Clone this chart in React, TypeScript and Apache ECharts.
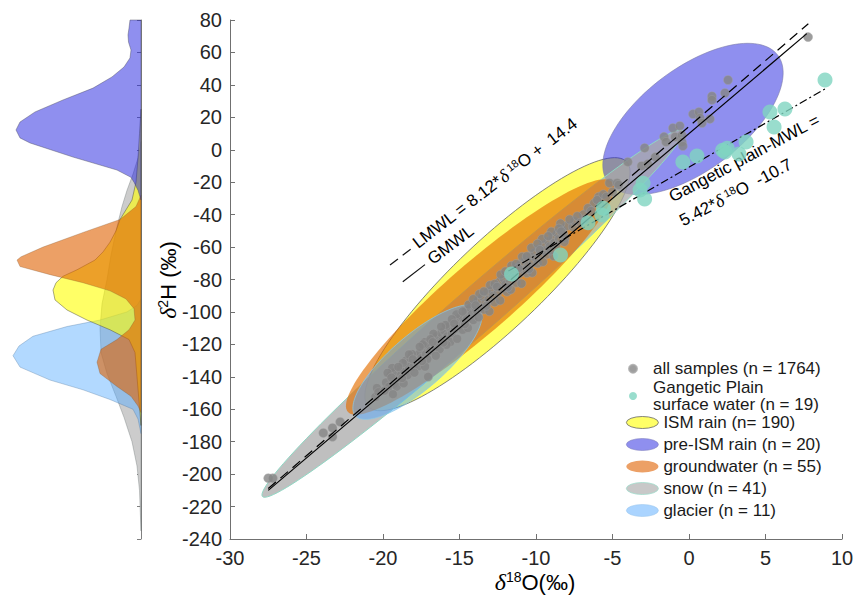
import React, { useEffect, useRef } from 'react';
import * as echarts from 'echarts';

const FONT = "'Liberation Sans', Arial, Helvetica, sans-serif";
const SERIF = "'Liberation Serif', 'DejaVu Serif', serif";

// ---- scatter data (δ18O, δ2H) ----
const allSamples: number[][] = [
  [-27.5, -202.5], [-27.2, -202.5], [-23.9, -174.6], [-23.3, -171.5], [-23.3, -177], [-22.8, -167.8],
  [-20.5, -152.4], [-20.4, -146.9], [-20.3, -149.5], [-17.25, -118.5], [-17.05, -140],
  [-19.8, -143.5], [-19.6, -146.0], [-19.5, -139.0], [-19.3, -144.5], [-19.2, -137.0], [-19.0, -141.5],
  [-18.9, -135.0], [-18.8, -138.5], [-18.6, -136.5], [-18.5, -130.0], [-18.3, -134.0], [-18.2, -128.5],
  [-18.0, -133.5], [-17.9, -127.0], [-17.8, -130.0], [-17.6, -125.5], [-17.5, -128.5], [-17.3, -121.0],
  [-17.2, -126.0], [-17.0, -120.5], [-16.9, -124.0], [-16.8, -117.5], [-16.6, -121.5], [-16.5, -115.0],
  [-16.4, -119.5], [-16.2, -113.0], [-16.1, -117.5], [-16.0, -111.5], [-15.8, -115.0], [-15.7, -109.0],
  [-15.5, -113.5], [-15.4, -106.5], [-15.3, -110.5], [-15.1, -104.0], [-15.0, -108.5], [-14.9, -102.5],
  [-14.7, -106.0], [-14.6, -99.5], [-14.5, -104.0], [-14.3, -97.5], [-14.2, -101.5], [-14.0, -95.0],
  [-13.9, -99.0], [-13.8, -93.0], [-13.6, -97.5], [-13.5, -90.5], [-13.3, -94.5], [-13.2, -88.0],
  [-13.1, -92.5], [-12.9, -86.5], [-12.8, -90.0], [-12.6, -84.0], [-12.5, -88.0], [-12.4, -81.5],
  [-12.2, -85.5], [-12.1, -79.5], [-12.0, -83.0], [-11.8, -77.5], [-11.7, -81.5], [-11.5, -75.0],
  [-11.4, -79.0], [-11.2, -72.5], [-11.1, -76.5], [-11.0, -70.5], [-10.8, -74.0], [-10.7, -68.0],
  [-10.5, -71.5], [-10.4, -65.5], [-10.2, -69.5], [-10.1, -63.5], [-10.0, -67.0], [-9.8, -61.0],
  [-9.7, -64.5], [-9.5, -58.5], [-9.4, -62.0], [-9.2, -56.5], [-9.1, -59.5], [-8.9, -54.0],
  [-8.8, -57.5], [-8.6, -51.5], [-8.5, -55.0], [-8.3, -49.5], [-8.2, -52.0], [-8.0, -47.0],
  [-19.9, -148.5], [-19.4, -134.5], [-19.1, -146.0], [-18.7, -131.5], [-18.4, -139.0], [-18.1, -126.0],
  [-17.7, -133.5], [-17.4, -120.0], [-17.1, -129.0], [-16.7, -113.5], [-16.3, -123.0], [-15.9, -108.0],
  [-15.6, -118.5], [-15.2, -101.5], [-14.8, -111.0], [-14.4, -95.5], [-14.1, -105.0], [-13.7, -89.0],
  [-13.4, -98.5], [-13.0, -83.5], [-12.7, -94.0], [-12.3, -77.0], [-11.9, -87.5], [-11.6, -71.5],
  [-11.3, -82.0], [-10.9, -66.0], [-10.6, -76.0], [-10.3, -60.5], [-9.9, -70.0], [-9.6, -55.0],
  [-9.3, -64.5], [-9.0, -50.5], [-8.7, -59.0], [-8.4, -45.5], [-8.1, -54.5],
  [-19.7, -137.6], [-19.35, -150.7], [-19.0, -133.9], [-18.65, -144.0], [-18.3, -126.2], [-17.95, -137.4],
  [-17.6, -121.5], [-17.25, -133.7], [-16.9, -116.8], [-16.55, -127.0], [-16.2, -109.1], [-15.85, -120.3],
  [-15.5, -104.5], [-15.15, -116.6], [-14.8, -99.8], [-14.45, -109.9], [-14.1, -92.1], [-13.75, -103.3],
  [-13.4, -87.4], [-13.05, -99.6], [-12.7, -82.7], [-12.35, -92.9], [-12.0, -75.0], [-11.65, -86.2],
  [-11.3, -70.4], [-10.95, -82.5], [-10.6, -65.7], [-10.25, -75.8], [-9.9, -58.0], [-9.55, -69.1],
  [-9.2, -53.3], [-8.85, -65.5], [-8.5, -48.6], [-8.15, -56.8],
  [-19.45, -140.5], [-18.75, -140.8], [-18.05, -129.2], [-17.45, -130.3], [-16.75, -118.6], [-16.05, -118.9],
  [-15.35, -107.2], [-14.65, -107.6], [-13.95, -95.9], [-13.25, -96.2], [-12.55, -84.5], [-11.85, -84.8],
  [-11.15, -73.1], [-10.45, -73.5], [-9.75, -61.8], [-9.05, -62.1], [-8.35, -50.4],
  [-7.6, -47.5], [-7.5, -44], [-6.9, -40], [-6.8, -43], [-6.2, -33], [-5.8, -33.5], [-5.9, -29],
  [-7.8, -43], [-7.3, -41], [-7.1, -45], [-6.6, -36], [-6.4, -37.7], [-6.0, -31], [-5.6, -27.5],
  [-5.4, -29], [-5.2, -20.5], [-5.0, -26], [-4.7, -20.5], [-4.6, -21.7], [-4.0, -7.5], [-3.1, -10],
  [-2.9, 1.1], [-2.7, -8.8], [-2.2, -4.5], [-1.63, 8], [-1.5, 4.8], [-1.05, 13.4], [-0.9, 7.9],
  [-0.6, 14.7], [-0.46, 9], [-0.46, 4.8], [-0.4, 2.3], [0.26, 22], [0.65, 23.3], [0.72, 19.6],
  [0.85, 16.5], [1.37, 19], [1.5, 33], [1.5, 30.7], [2.35, 35], [2.55, 43], [7.78, 69.5],
];

const surfaceWater: number[][] = [
  [8.89, 43], [5.29, 23.3], [6.27, 25.1], [5.56, 14], [3.73, 4.8], [2.35, -1.4], [2.5, 1],
  [3.27, -2.6], [2.2, -0.3], [0.52, -3.8], [-0.4, -7.5], [-3.0, -20.6], [-3.2, -24.8],
  [-2.9, -30.4], [-5.6, -36], [-5.7, -40.2], [-6.6, -45], [-8.4, -64.9], [-11.6, -76.6],
];

// ---- meteoric water lines (endpoints) ----
const gmwlLine = [[-27.5, -210.0], [7.7, 71.6]];
const lmwlLine = [[-27.5, -208.9], [7.8, 77.7]];
const gangeticLine = [[-11.8, -74.7], [9.0, 38.1]];

// ---- ellipses: [cx, cy, ux, uy, vx, vy] (center + conjugate semi-axes, data units) ----
const ismEllipse = [-12.52, -82.9, 8.44, 75.5, 1.98, -19.67];
const preIsmEllipse = [0.26, 19.0, 5.54, 39.3, 2.01, -25.1];
const snowEllipse = [-14.15, -101.0, 13.73, 112.8, 0.95, -10.3];
const groundwaterEllipse = [-13.66, -90.8, 8.64, 70.8, 1.46, -15.84];
const glacierEllipse = [-17.75, -130.9, 4.06, 33.0, 1.15, -12.6];

// ---- marginal densities: [δ2H, relative density] ----
const preIsmDensity = [
  [80, 0], [80, 11], [75, 12], [70.8, 13], [66.4, 12.5], [61.5, 10], [56.6, 11], [51, 17], [44.9, 29],
  [38, 48], [30.7, 78], [23.3, 106], [17.1, 121], [12.2, 125], [7.3, 121], [4.2, 111], [-4.5, 68],
  [-12.5, 24], [-17, 10], [-20, 7], [-25, 3], [-31, 0],
];
const ismDensity = [
  [25, 0], [10, 1.5], [-5, 3], [-20, 5], [-31, 9], [-43, 21], [-50, 25], [-57, 31], [-63, 38],
  [-68, 46], [-74, 64], [-78, 78], [-82, 85], [-86.5, 88], [-92.6, 86], [-98.8, 74], [-105, 54],
  [-111, 31], [-117, 12], [-125, 6], [-140, 4], [-155, 2], [-170, 0],
];
const groundwaterDensity = [
  [-28, 0], [-35, 5], [-43, 21], [-51, 58], [-60, 98], [-66, 120], [-68, 124], [-72, 121], [-77, 91],
  [-82, 58], [-87, 31], [-92, 15], [-98, 7], [-105, 6], [-111, 12], [-117, 24], [-123, 40], [-131, 44],
  [-138, 41], [-146, 24], [-152, 10], [-158, 3], [-162, 0],
];
const glacierDensity = [
  [-92, 0], [-96, 4], [-100, 14], [-105, 41], [-109, 74], [-115, 108], [-121, 122], [-127, 128],
  [-134, 121], [-142, 91], [-148, 58], [-154, 31], [-160, 8], [-166, 3], [-175, 0],
];
const snowDensity = [
  [5, 0], [-5, 3], [-15, 8], [-25, 14], [-35, 19], [-50, 25], [-65, 30], [-80, 34], [-95, 39],
  [-110, 41], [-125, 40], [-138, 34], [-152, 25], [-165, 17], [-180, 9], [-195, 4], [-210, 1.5], [-235, 0],
];

const NAMES = {
  all: 'all samples (n = 1764)',
  sw: 'Gangetic Plain\nsurface water (n = 19)',
  ism: 'ISM rain (n= 190)',
  pre: 'pre-ISM rain (n = 20)',
  gw: 'groundwater (n = 55)',
  snow: 'snow (n = 41)',
  gl: 'glacier (n = 11)',
};

function ellipseSeries(name: string, p: number[], fill: string, stroke: string, lw: number) {
  return {
    type: 'custom',
    name,
    xAxisIndex: 0,
    yAxisIndex: 0,
    silent: true,
    itemStyle: { color: fill },
    data: [[p[0], p[1]]],
    renderItem: (_params: any, api: any) => {
      const pts: number[][] = [];
      const N = 120;
      for (let i = 0; i < N; i++) {
        const t = (i / N) * Math.PI * 2;
        pts.push(api.coord([p[0] + p[2] * Math.cos(t) + p[4] * Math.sin(t), p[1] + p[3] * Math.cos(t) + p[5] * Math.sin(t)]));
      }
      return { type: 'polygon', shape: { points: pts }, style: { fill, stroke, lineWidth: lw } };
    },
  };
}

function densitySeries(name: string, d: number[][], fill: string, stroke: string) {
  return {
    type: 'custom',
    name: name + ' density',
    xAxisIndex: 1,
    yAxisIndex: 1,
    silent: true,
    data: [[0, 0]],
    renderItem: (_params: any, api: any) => {
      const pts = d.map(([v, e]) => api.coord([e, v]));
      return { type: 'polygon', shape: { points: pts }, style: { fill, stroke, lineWidth: 0.7 } };
    },
  };
}

const ELLIPSE_ICON = 'path://M0,6a16,6 0 1,0 32,0a16,6 0 1,0 -32,0z';

const annRich = {
  n: { fontSize: 17, fontFamily: FONT, color: '#111' },
  d: { fontSize: 18, fontFamily: SERIF, fontStyle: 'italic', color: '#111' },
  s: { fontSize: 11, fontFamily: FONT, color: '#111', verticalAlign: 'top' },
};

const titleRich = {
  d: { fontSize: 24, fontFamily: SERIF, fontStyle: 'italic', color: '#1a1a1a' },
  s: { fontSize: 14, fontFamily: FONT, color: '#1a1a1a', verticalAlign: 'top' },
  t: { fontSize: 22, fontFamily: FONT, color: '#1a1a1a' },
};

export default function App() {
  const ref = useRef<HTMLDivElement>(null);
  useEffect(() => {
    const chart = echarts.init(ref.current!, null, { renderer: 'svg' });
    const deg = Math.PI / 180;
    const option: any = {
      animation: false,
      backgroundColor: '#fff',
      grid: [
        { left: 230, top: 20, width: 612, height: 519 },
        { left: 11, top: 20, width: 130, height: 519 },
      ],
      xAxis: [
        {
          gridIndex: 0, type: 'value', min: -30, max: 10, interval: 5,
          axisLine: { onZero: false, lineStyle: { color: '#707070', width: 1 } },
          axisTick: { inside: true, length: 5, lineStyle: { color: '#707070' } },
          axisLabel: { fontSize: 20, color: '#262626', fontFamily: FONT, margin: 9 },
          splitLine: { show: false },
        },
        { gridIndex: 1, type: 'value', min: 0, max: 130, inverse: true, show: false },
      ],
      yAxis: [
        {
          gridIndex: 0, type: 'value', min: -240, max: 80, interval: 20,
          axisLine: { show: true, onZero: false, lineStyle: { color: '#707070', width: 1 } },
          axisTick: { show: true, inside: true, length: 5, lineStyle: { color: '#707070' } },
          axisLabel: { fontSize: 20, color: '#262626', fontFamily: FONT, margin: 8 },
          splitLine: { show: false },
        },
        {
          gridIndex: 1, type: 'value', min: -240, max: 80, interval: 20, position: 'right',
          axisLine: { show: true, onZero: false, lineStyle: { color: '#808080', width: 1 } },
          axisTick: { show: true, inside: true, length: 4, lineStyle: { color: '#808080' } },
          axisLabel: { show: false },
          splitLine: { show: false },
        },
      ],
      legend: [
        {
          orient: 'vertical', left: 623, top: 355, itemWidth: 30, itemHeight: 8, itemGap: 1,
          padding: 5, selectedMode: false,
          textStyle: { fontSize: 17, color: '#1a1a1a', fontFamily: FONT, lineHeight: 17.5 },
          data: [
            { name: NAMES.all, icon: 'circle' },
            { name: NAMES.sw, icon: 'circle' },
          ],
        },
        {
          orient: 'vertical', left: 621, top: 409, itemWidth: 32, itemHeight: 12, itemGap: 5,
          padding: 5, selectedMode: false,
          textStyle: { fontSize: 17, color: '#1a1a1a', fontFamily: FONT },
          data: [
            { name: NAMES.ism, icon: ELLIPSE_ICON, itemStyle: { color: '#ffff66', borderColor: '#666', borderWidth: 0.8 } },
            { name: NAMES.pre, icon: ELLIPSE_ICON, itemStyle: { color: '#8f8fef', borderColor: '#8080c0', borderWidth: 0.6 } },
            { name: NAMES.gw, icon: ELLIPSE_ICON, itemStyle: { color: '#eca066', borderColor: '#eca066', borderWidth: 0 } },
            { name: NAMES.snow, icon: ELLIPSE_ICON, itemStyle: { color: '#c8c8c8', borderColor: '#9fdccc', borderWidth: 0.8 } },
            { name: NAMES.gl, icon: ELLIPSE_ICON, itemStyle: { color: '#aad4ff', borderColor: '#9cc8ee', borderWidth: 0.6 } },
          ],
        },
      ],
      series: [
        densitySeries('snow', snowDensity, '#cccccc', 'rgba(100,110,110,0.5)'),
        densitySeries('glacier', glacierDensity, 'rgba(85,170,255,0.45)', 'rgba(80,120,160,0.5)'),
        densitySeries('ism', ismDensity, 'rgba(255,255,0,0.6)', 'rgba(80,80,60,0.7)'),
        densitySeries('gw', groundwaterDensity, 'rgba(224,96,0,0.6)', 'rgba(120,80,40,0.4)'),
        densitySeries('pre', preIsmDensity, 'rgba(31,31,223,0.5)', 'rgba(70,70,90,0.6)'),
        ellipseSeries(NAMES.ism, ismEllipse, 'rgba(255,255,0,0.6)', '#666', 0.8),
        ellipseSeries(NAMES.pre, preIsmEllipse, 'rgba(31,31,223,0.5)', '#7a7aa8', 0.6),
        ellipseSeries(NAMES.snow, snowEllipse, 'rgba(170,170,170,0.75)', '#8fd8c4', 1),
        ellipseSeries(NAMES.gw, groundwaterEllipse, 'rgba(228,110,0,0.65)', 'rgba(0,0,0,0)', 0),
        ellipseSeries(NAMES.gl, glacierEllipse, 'rgba(85,170,255,0.5)', 'rgba(140,200,230,0.9)', 0.8),
        {
          type: 'scatter', name: NAMES.all, xAxisIndex: 0, yAxisIndex: 0, data: allSamples,
          symbolSize: 9, itemStyle: { color: '#858585', borderColor: '#a5a5a5', borderWidth: 0.5 },
          silent: true,
        },
        {
          type: 'line', name: 'GMWL', data: gmwlLine, symbol: 'none', silent: true,
          lineStyle: { color: '#000', width: 1.2 },
        },
        {
          type: 'line', name: 'LMWL', data: lmwlLine, symbol: 'none', silent: true,
          lineStyle: { color: '#000', width: 1.2, type: [10, 6] },
        },
        {
          type: 'line', name: 'Gangetic plain-MWL', data: gangeticLine, symbol: 'none', silent: true,
          lineStyle: { color: '#000', width: 1.2, type: [8, 3, 2, 3] },
        },
        {
          type: 'scatter', name: NAMES.sw, xAxisIndex: 0, yAxisIndex: 0, data: surfaceWater,
          symbolSize: 15, itemStyle: { color: '#7fd5c1' }, silent: true, z: 5,
        },
      ],
      graphic: [
        {
          type: 'group', x: 390, y: 265, rotation: 37.5 * deg,
          children: [
            { type: 'line', shape: { x1: 0, y1: 0, x2: 10, y2: 0 }, style: { stroke: '#111', lineWidth: 1.2 } },
            { type: 'line', shape: { x1: 16, y1: 0, x2: 26, y2: 0 }, style: { stroke: '#111', lineWidth: 1.2 } },
            {
              type: 'text', x: 32, y: -1,
              style: { text: '{n|LMWL = 8.12*}{d|δ}{s| 18}{n|O +  14.4}', rich: annRich, verticalAlign: 'middle', textVerticalAlign: 'middle' },
            },
            { type: 'line', shape: { x1: 0, y1: 21, x2: 28, y2: 21 }, style: { stroke: '#111', lineWidth: 1.2 } },
            {
              type: 'text', x: 34, y: 21,
              style: { text: '{n|GMWL}', rich: annRich, verticalAlign: 'middle', textVerticalAlign: 'middle' },
            },
          ],
        },
        {
          type: 'group', x: 673, y: 203, rotation: 28 * deg,
          children: [
            {
              type: 'text', x: 0, y: -6,
              style: { text: '{n|Gangetic plain-MWL =}', rich: annRich, verticalAlign: 'middle', textVerticalAlign: 'middle' },
            },
            {
              type: 'text', x: -2, y: 20,
              style: { text: '{n|5.42*}{d|δ}{s| 18}{n|O  -10.7}', rich: annRich, verticalAlign: 'middle', textVerticalAlign: 'middle' },
            },
          ],
        },
        {
          type: 'text', x: 535, y: 582,
          style: {
            text: '{d|δ}{s|18}{t|O(‰)}', rich: titleRich,
            align: 'center', textAlign: 'center', verticalAlign: 'middle', textVerticalAlign: 'middle',
          },
        },
        {
          type: 'text', x: 168, y: 280, rotation: 90 * deg,
          style: {
            text: '{d|δ}{s|2}{t|H (‰)}', rich: titleRich,
            align: 'center', textAlign: 'center', verticalAlign: 'middle', textVerticalAlign: 'middle',
          },
        },
      ],
    };
    chart.setOption(option);
    return () => chart.dispose();
  }, []);
  return <div ref={ref} style={{ position: 'absolute', left: 0, top: 0, width: 858, height: 602 }} />;
}
